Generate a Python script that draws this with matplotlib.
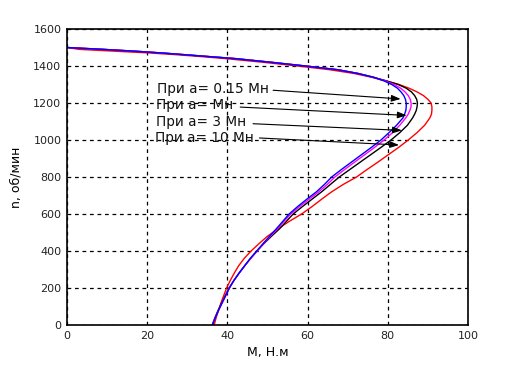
import numpy as np
import matplotlib
matplotlib.use("Agg")
import matplotlib.pyplot as plt

# speed values shared by all curves (rpm), top to bottom
n_vals = [1500, 1490, 1480, 1470, 1460, 1450, 1440, 1420, 1400, 1380, 1360, 1340,
          1320, 1300, 1280, 1260, 1240, 1220, 1200, 1180, 1160, 1140, 1120, 1080,
          1040, 1000, 960, 920, 880, 840, 800, 760, 720, 680, 640, 600, 560, 520,
          480, 440, 400, 360, 320, 280, 240, 200, 160, 120, 80, 40, 0]

# torque (N.m) for each a
m_a015 = [0, 9, 17, 24, 30, 36, 42, 51, 59.5, 67.5, 72.5, 76.3,
          79.0, 81.0, 82.4, 83.3, 84.0, 84.4, 84.6, 84.6, 84.5, 84.2, 83.8, 82.2,
          80.3, 78.3, 75.9, 73.4, 70.9, 68.4, 66.0, 64.2, 62.2, 59.8, 57.5, 55.4, 53.8, 52.2,
          50.5, 48.9, 47.3, 45.7, 44.3, 42.9, 41.6, 40.5, 39.6, 38.7, 37.8, 37.0, 36.3]
m_a1 = [0, 9, 17, 24, 30, 36, 42, 51, 59.5, 67.5, 72.5, 76.3,
        79.3, 81.6, 83.2, 84.3, 85.1, 85.6, 85.8, 85.8, 85.5, 85.1, 84.5, 83.0,
        81.2, 79.1, 76.7, 74.2, 71.7, 69.2, 66.8, 64.9, 62.8, 60.4, 58.0, 55.8, 54.1, 52.5,
        50.7, 49.0, 47.4, 45.8, 44.3, 42.9, 41.6, 40.5, 39.6, 38.7, 37.8, 37.0, 36.3]
m_a3 = [0, 9, 17, 24, 30, 36, 42, 51, 59.5, 67.5, 72.5, 76.3,
        79.6, 82.6, 84.6, 85.9, 86.7, 87.2, 87.4, 87.3, 87.1, 86.7, 86.2, 84.9,
        83.0, 80.8, 78.3, 75.7, 73.1, 70.5, 67.9, 65.7, 63.5, 61.1, 58.7, 56.4, 54.7, 53.0,
        51.0, 49.1, 47.4, 45.8, 44.3, 42.9, 41.6, 40.4, 39.5, 38.6, 37.7, 36.9, 36.2]
m_a10 = [0, 3, 12, 21, 28, 34, 39.5, 49, 57.5, 65.5, 71.5, 75.8,
         79.5, 82.8, 85.3, 87.3, 88.9, 90.0, 90.8, 91.0, 91.0, 90.9, 90.5, 89.2,
         87.3, 85.1, 82.7, 80.1, 77.5, 74.8, 72.2, 68.9, 66.0, 63.5, 61.1, 58.5, 55.4, 52.6,
         50.0, 47.9, 45.9, 44.2, 42.8, 41.7, 40.7, 39.8, 39.1, 38.4, 37.8, 37.2, 36.7]

labels = ["При a= 0.15 Мн", "При a= Мн", "При a= 3 Мн", "При a= 10 Мн"]

fig = plt.figure(figsize=(5.17, 3.65), dpi=100)
ax = fig.add_axes([0.1296, 0.1096, 0.7756, 0.8109])

ax.plot(m_a10, n_vals, color="red", lw=1.0)
ax.plot(m_a3, n_vals, color="black", lw=1.0)
ax.plot(m_a1, n_vals, color="magenta", lw=1.0)
ax.plot(m_a015, n_vals, color="blue", lw=1.0)

# label text positions, line starts and arrow tips (data coords)
text_pos = [(22.5, 1278), (22.3, 1188), (22.2, 1098), (22.0, 1013)]
line_start = [(51.4, 1269), (43.2, 1178), (46.4, 1088), (48.0, 1011)]
arrow_tip = [(83.2, 1222), (84.7, 1133), (83.5, 1052), (82.8, 973)]
for lab, tp, ls, at in zip(labels, text_pos, line_start, arrow_tip):
    ax.text(tp[0], tp[1], lab, fontsize=9.8, color="#111111", va="center", ha="left")
    ax.annotate("", xy=at, xytext=ls,
                arrowprops=dict(arrowstyle="-|>,head_length=0.55,head_width=0.2",
                                color="black", lw=0.8, shrinkA=0, shrinkB=0))

ax.set_xlim(0, 100)
ax.set_ylim(0, 1600)
ax.set_xticks(np.arange(0, 101, 20))
ax.set_yticks(np.arange(0, 1601, 200))
ax.tick_params(length=0, labelsize=8, pad=4, colors="#222222")
ax.grid(True, color="black", linestyle=(0, (3, 3)), linewidth=0.9)
for s in ax.spines.values():
    s.set_linewidth(1.2)

ax.set_xlabel("M, Н.м", fontsize=9, labelpad=4)
ax.set_ylabel("n, об/мин", fontsize=9, labelpad=8)

fig.savefig("out.png", dpi=100)
